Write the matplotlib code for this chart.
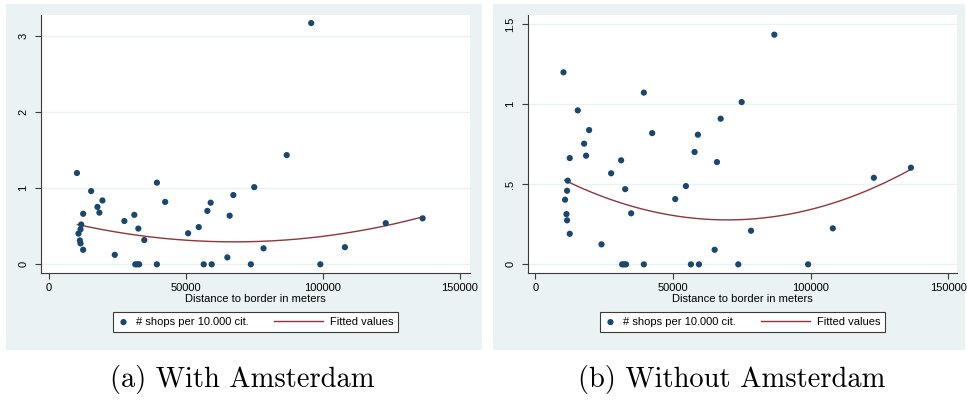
import numpy as np
import matplotlib
matplotlib.use("Agg")
import matplotlib.pyplot as plt
from matplotlib.patches import Rectangle
from matplotlib.legend_handler import HandlerLine2D

# ---------------- data ----------------
distance = [10200, 10770, 11270, 11500, 11750, 11500, 12470, 12470, 15380, 17680,
            18400, 19500, 24000, 27500, 31130, 31500, 32200, 32900, 32600, 34770,
            39380, 39380, 42400, 50770, 54650, 56470, 57800, 59000, 59380, 65090,
            65930, 67270, 73670, 74900, 78290, 86760, 99020, 107990, 122900, 136360]
shops = [1.20, 0.404, 0.314, 0.46, 0.523, 0.275, 0.664, 0.191, 0.962, 0.754,
         0.679, 0.839, 0.125, 0.569, 0.65, 0.0, 0.0, 0.0, 0.47, 0.319,
         1.073, 0.0, 0.82, 0.408, 0.489, 0.0, 0.702, 0.81, 0.0, 0.091,
         0.639, 0.91, 0.0, 1.014, 0.21, 1.435, 0.0, 0.225, 0.541, 0.604]
amsterdam_distance = [95700]
amsterdam_shops = [3.17]

# fitted (quadratic) values at a few distances
fit_distance_a = [10340, 35040, 56930, 75180, 108030, 123250, 136860]
fit_values_a = [0.525, 0.372, 0.297, 0.293, 0.407, 0.539, 0.608]
fit_distance_b = [10650, 30650, 50040, 69450, 102180, 124000, 136100]
fit_values_b = [0.527, 0.381, 0.308, 0.281, 0.350, 0.485, 0.594]

xticks = [0, 50000, 100000, 150000]
yticks_a = [0, 1, 2, 3]
yticklabels_a = ["0", "1", "2", "3"]
yticks_b = [0, 0.5, 1, 1.5]
yticklabels_b = ["0", ".5", "1", "1.5"]
xlabel = "Distance to border in meters"
legend_labels = ["# shops per 10.000 cit.", "Fitted values"]
captions = ["(a) With Amsterdam", "(b) Without Amsterdam"]

# ---------------- style ----------------
BG = "#EAF2F3"
NAVY = "#1A476F"
MAROON = "#90353B"
FS = 8
plt.rcParams["font.family"] = ["Liberation Sans", "DejaVu Sans"]

W, H = 967, 401
fig = plt.figure(figsize=(W / 100, H / 100), dpi=100)
fig.patch.set_facecolor("white")


def fr(x0, y0, x1, y1):
    return [x0 / W, (H - y1) / H, (x1 - x0) / W, (y1 - y0) / H]


def panel(bg_px, ax_px, xs, ys, fx, fy, xlim, ylim, yticks, yticklabels, caption, cap_x):
    bx0, by0, bx1, by1 = bg_px
    fig.patches.append(Rectangle((bx0 / W, (H - by1) / H), (bx1 - bx0) / W, (by1 - by0) / H,
                                 transform=fig.transFigure, facecolor=BG, edgecolor="none",
                                 zorder=-5))
    ax = fig.add_axes(fr(*ax_px))
    ax.set_zorder(2)
    ax.set_facecolor("white")
    ax.set_xlim(*xlim)
    ax.set_ylim(*ylim)
    for s in ["top", "right"]:
        ax.spines[s].set_visible(False)
    for s in ["left", "bottom"]:
        ax.spines[s].set_color("#3a3a3a")
        ax.spines[s].set_linewidth(0.8)
    ax.set_xticks(xticks)
    ax.set_xticklabels([str(t) for t in xticks], fontsize=FS)
    ax.set_yticks(yticks)
    ax.set_yticklabels(yticklabels, fontsize=FS, rotation=90, va="center")
    ax.tick_params(axis="both", direction="out", length=4, width=0.8, color="#3a3a3a")
    ax.tick_params(axis="x", pad=3)
    ax.tick_params(axis="y", pad=5)
    ax.yaxis.grid(True, color=BG, linewidth=1.0)
    ax.set_axisbelow(True)
    ax.set_xlabel(xlabel, fontsize=FS, labelpad=1)

    # quadratic fitted line through the read fitted values
    fxa = np.array(fx, dtype=float)
    coef = np.polyfit(fxa, np.array(fy, dtype=float), 2)
    xf = np.linspace(fxa.min(), fxa.max(), 200)
    yf = np.polyval(coef, xf)

    sc = ax.scatter(xs, ys, s=20, color=NAVY, edgecolors="none", zorder=3,
                    label=legend_labels[0])
    ln, = ax.plot(xf, yf, color=MAROON, linewidth=1.0, zorder=2, label=legend_labels[1])

    ax_h = ax_px[3] - ax_px[1]
    leg_top = (ax_px[3] - 312) / ax_h
    leg = ax.legend(handles=[sc, ln], loc="upper center", bbox_to_anchor=(0.5, leg_top),
                    ncol=2, fontsize=FS, frameon=True, fancybox=False, framealpha=1,
                    edgecolor="#3a3a3a", handlelength=1.0, handletextpad=0.6,
                    columnspacing=5.7, borderpad=0.45, borderaxespad=0,
                    scatterpoints=1,
                    handler_map={ln: HandlerLine2D(xpad=-3.4)})
    leg.get_frame().set_linewidth(0.8)

    fig.text(cap_x / W, (H - 380) / H, caption, family="cmr10", fontsize=20.5,
             ha="center", va="center")
    return ax


# x: 137 px per 50000 (left panel), y: 76.1 px per unit
panel((6, 4, 482, 350), (41, 15, 470, 273),
      distance + amsterdam_distance, shops + amsterdam_shops,
      fit_distance_a, fit_values_a,
      (-2920, 153650), (-0.114, 3.276), yticks_a, yticklabels_a, captions[0], 242)

panel((493, 4, 965, 350), (528, 15, 957, 273),
      distance, shops,
      fit_distance_b, fit_values_b,
      (-2690, 153090), (-0.054, 1.558), yticks_b, yticklabels_b, captions[1], 732)

fig.savefig("out.png", dpi=100, facecolor="white")
